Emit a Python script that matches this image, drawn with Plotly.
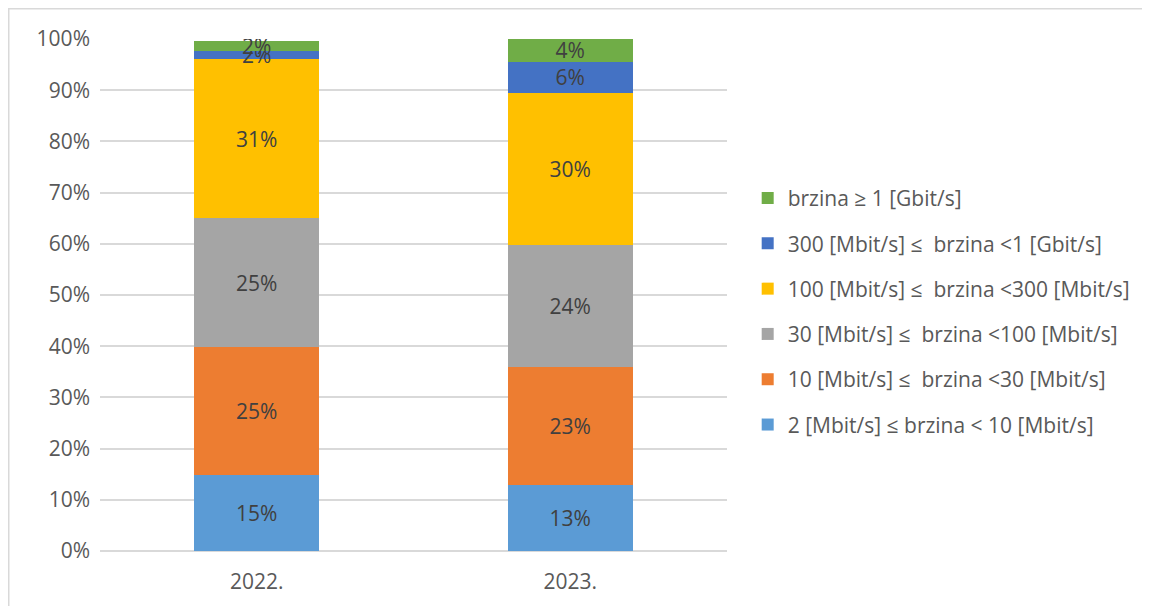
import plotly.graph_objects as go

years = ["2022.", "2023."]
series_names = [
    "2 [Mbit/s] ≤ brzina < 10 [Mbit/s]",
    "10 [Mbit/s] ≤  brzina <30 [Mbit/s]",
    "30 [Mbit/s] ≤  brzina <100 [Mbit/s]",
    "100 [Mbit/s] ≤  brzina <300 [Mbit/s]",
    "300 [Mbit/s] ≤  brzina <1 [Gbit/s]",
    "brzina ≥ 1 [Gbit/s]",
]
s_2_10 = [14.8, 12.8]
s_10_30 = [25.0, 23.2]
s_30_100 = [25.2, 23.8]
s_100_300 = [31.1, 29.7]
s_300_1g = [1.5, 6.1]
s_1g = [2.1, 4.4]
series_values = [s_2_10, s_10_30, s_30_100, s_100_300, s_300_1g, s_1g]
colors = ["#5B9BD5", "#ED7D31", "#A5A5A5", "#FFC000", "#4472C4", "#70AD47"]
y_ticks = [0, 10, 20, 30, 40, 50, 60, 70, 80, 90, 100]

FONT = "Open Sans"
FS = 21
W, H = 1142, 598
L, T = 92, 31
PW, PH = 627, 512

fig = go.Figure()
n = len(series_names)
for i, (name, vals, col) in enumerate(zip(series_names, series_values, colors)):
    fig.add_trace(go.Bar(
        x=years, y=vals, name=name,
        marker=dict(color=col, line=dict(width=0)),
        text=[f"{v:.0f}%" for v in vals],
        textposition="inside",
        insidetextanchor="middle",
        textfont=dict(family=FONT, size=FS, color="#404040"),
        legendgroup=f"g{i}",
        legendrank=n - i,
        hoverinfo="x+y+name",
    ))

fig.update_layout(
    width=W, height=H,
    barmode="stack",
    bargap=0.6,
    plot_bgcolor="white",
    paper_bgcolor="white",
    margin=dict(l=L, r=W - L - PW, t=T, b=H - T - PH, autoexpand=False),
    font=dict(family=FONT, size=FS, color="#595959"),
    uniformtext=dict(minsize=FS, mode="show"),
    legend=dict(
        x=1.033, xanchor="left", y=0.468, yanchor="middle",
        traceorder="grouped", tracegroupgap=15,
        font=dict(family=FONT, size=FS, color="#595959"),
        bgcolor="rgba(0,0,0,0)",
    ),
    shapes=[dict(
        type="rect", xref="paper", yref="paper",
        x0=(0.75 - L) / PW, x1=(W + 20 - L) / PW,
        y0=-(H + 20 - T - PH) / PH, y1=(T + PH - 0.75) / PH,
        line=dict(color="#D9D9D9", width=1.5), fillcolor="rgba(0,0,0,0)",
        layer="below",
    )],
)
fig.update_yaxes(
    range=[0, 100], tickvals=y_ticks, ticktext=[f"{t}%" for t in y_ticks],
    showgrid=True, gridcolor="#D9D9D9", gridwidth=1.5,
    zeroline=True, zerolinecolor="#D9D9D9", zerolinewidth=1.5,
    showline=False, ticks="", ticklabelstandoff=9,
    tickfont=dict(family=FONT, size=FS, color="#595959"),
)
fig.update_xaxes(
    showgrid=False, showline=False, ticks="", ticklabelstandoff=16,
    tickfont=dict(family=FONT, size=FS, color="#595959"),
)

fig.write_html("out.html")
